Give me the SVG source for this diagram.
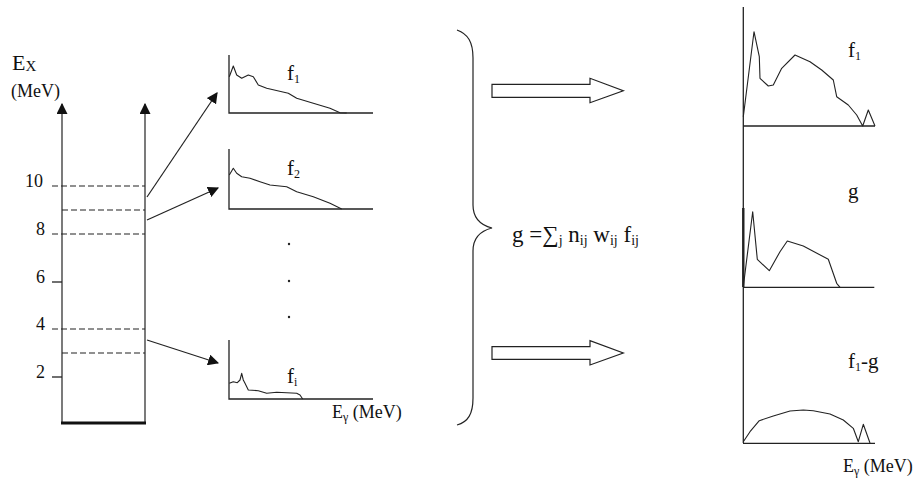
<svg xmlns="http://www.w3.org/2000/svg" width="923" height="480" viewBox="0 0 923 480" font-family="'Liberation Serif', 'DejaVu Serif', serif">
<style>
  text { font-family: "Liberation Serif", "DejaVu Serif", serif; fill: #111; }
  .ax { stroke: #222; stroke-width: 1.3; fill: none; }
  .cv { stroke: #222; stroke-width: 1.1; fill: none; stroke-linejoin: round; }
  .dash { stroke: #222; stroke-width: 1.2; stroke-dasharray: 6 3; fill: none; }
  .con { stroke: #222; stroke-width: 1.2; fill: none; }
  .lbl { font-size: 18px; }
  .sub { font-size: 12px; }
</style>
<defs>
  <marker id="ah" viewBox="0 0 10 10" refX="9" refY="5" markerWidth="11" markerHeight="11" markerUnits="userSpaceOnUse" orient="auto">
    <path d="M0,0 L10,5 L0,10 Z" fill="#111"/>
  </marker>
</defs>
<rect width="923" height="480" fill="#fff"/>

<g id="level-scheme">
  <text x="12" y="70" font-size="22">E<tspan font-size="15" dy="1">X</tspan></text>
  <text x="11" y="97" font-size="18">(MeV)</text>
  <line class="con" x1="62" y1="423" x2="62" y2="104" marker-end="url(#ah)"/>
  <line class="con" x1="145" y1="423" x2="145" y2="104" marker-end="url(#ah)"/>
  <line x1="61" y1="423" x2="146" y2="423" stroke="#111" stroke-width="3"/>
  <line class="dash" x1="52" y1="186" x2="145" y2="186"/>
  <line class="dash" x1="62" y1="210" x2="145" y2="210"/>
  <line class="dash" x1="52" y1="234" x2="145" y2="234"/>
  <line class="ax" x1="52" y1="282" x2="62" y2="282"/>
  <line class="dash" x1="52" y1="329" x2="145" y2="329"/>
  <line class="dash" x1="62" y1="353" x2="145" y2="353"/>
  <line class="ax" x1="52" y1="377" x2="62" y2="377"/>
  <text class="lbl" x="25" y="187">10</text>
  <text class="lbl" x="36" y="235">8</text>
  <text class="lbl" x="36" y="283">6</text>
  <text class="lbl" x="36" y="330">4</text>
  <text class="lbl" x="36" y="378">2</text>
</g>

<g id="connectors">
  <line class="con" x1="147" y1="197" x2="217" y2="93" marker-end="url(#ah)"/>
  <line class="con" x1="147" y1="220" x2="218" y2="188" marker-end="url(#ah)"/>
  <line class="con" x1="147" y1="340" x2="218" y2="363" marker-end="url(#ah)"/>
</g>

<g id="spectrum-f1">
  <polyline class="ax" points="229,55 229,113 373,113"/>
  <polyline class="cv" points="229.3,76.7 233.3,66 236.7,75 241.7,78.3 248.3,75 253.3,76.7 258.3,85 266.7,88.3 288.3,93.3 296.7,98.3 313.3,103.3 330,108.3 340,112.7 346.7,113"/>
  <text x="287" y="80" font-size="21">f<tspan class="sub" dy="3">1</tspan></text>
</g>

<g id="spectrum-f2">
  <polyline class="ax" points="229,149 229,209 373,209"/>
  <polyline class="cv" points="229.3,175 233.3,168.3 236.7,173.3 241.7,176.7 250,178.3 260,181.7 270,185 286.7,186.7 296.7,191.7 313.3,196.7 330,203.3 341.7,209"/>
  <text x="287" y="175" font-size="21">f<tspan class="sub" dy="3">2</tspan></text>
</g>

<g id="dots">
  <circle cx="289" cy="244" r="1.2" fill="#222"/>
  <circle cx="289" cy="281" r="1.2" fill="#222"/>
  <circle cx="289" cy="317" r="1.2" fill="#222"/>
</g>

<g id="spectrum-fi">
  <polyline class="ax" points="229,340 229,399 373,399"/>
  <polyline class="cv" points="229.3,383.3 233.3,381.7 237.3,382.7 240,380 241.7,373.3 243.3,380 245,383.3 248.3,390 258.3,390.7 266.7,393.3 276.7,392.3 296.7,393.3 300,395 302.7,399"/>
  <text x="287" y="383" font-size="21">f<tspan class="sub" dy="3">i</tspan></text>
  <text x="332" y="418" font-size="18">E<tspan font-size="12" dy="3">γ</tspan><tspan dy="-3"> (MeV)</tspan></text>
</g>

<g id="brace">
  <path class="con" d="M457,30 C468,34 473,42 473,58 L473,205 C473,218 480,225 492,228 C480,231 473,238 473,251 L473,398 C473,414 468,422 457,425"/>
  <text x="512" y="242" font-size="23">g =∑<tspan font-size="14" dy="3">j</tspan><tspan dy="-3"> n</tspan><tspan font-size="14" dy="3">ij</tspan><tspan dy="-3"> w</tspan><tspan font-size="14" dy="3">ij</tspan><tspan dy="-3"> f</tspan><tspan font-size="14" dy="3">ij</tspan></text>
</g>

<g id="hollow-arrows">
  <polygon class="con" points="492,84.3 590,84.3 590,78.3 623.3,90.7 590,102.7 590,97.3 492,97.3"/>
  <polygon class="con" points="492,346.7 590,346.7 590,340.7 623.3,353 590,365 590,359.3 492,359.3"/>
</g>

<g id="result-f1">
  <line class="ax" x1="743.3" y1="7" x2="743.3" y2="443"/>
  <line class="ax" x1="743" y1="126" x2="875" y2="126"/>
  <polyline class="cv" points="743.3,116.7 754,31.7 759.3,56.7 760,78.3 768.3,86 773.3,85 781.7,68.3 795,55 810,61.7 821.7,70 833.3,80 836.7,96.7 848.3,105 856.7,115 862.7,126 868.3,110 875,126"/>
  <text x="848" y="57" font-size="21">f<tspan class="sub" dy="3">1</tspan></text>
</g>

<g id="result-g">
  <line x1="743.3" y1="208" x2="743.3" y2="287" stroke="#222" stroke-width="2.4"/>
  <line class="ax" x1="743" y1="287.3" x2="874.3" y2="287.3"/>
  <polyline class="cv" points="743.3,286.7 752.7,211.7 757.3,259.3 769.3,270.7 780,251.7 787.3,241 803.3,246 828.3,259.3 836.7,283.3 840,287.3"/>
  <text x="848" y="198" font-size="21">g</text>
</g>

<g id="result-f1-g">
  <line class="ax" x1="743" y1="443.3" x2="875" y2="443.3"/>
  <polyline class="cv" points="743.3,441.7 750,431.7 759.3,420.7 773.3,416 790,411 803.3,410 813.3,410.7 830,414 843.3,420 853.3,428.3 858.3,441.7 863.3,424.3 870,443"/>
  <text x="848" y="368" font-size="21">f<tspan class="sub" dy="3">1</tspan><tspan dy="-3">-g</tspan></text>
  <text x="843" y="472" font-size="18">E<tspan font-size="12" dy="3">γ</tspan><tspan dy="-3"> (MeV)</tspan></text>
</g>
</svg>
